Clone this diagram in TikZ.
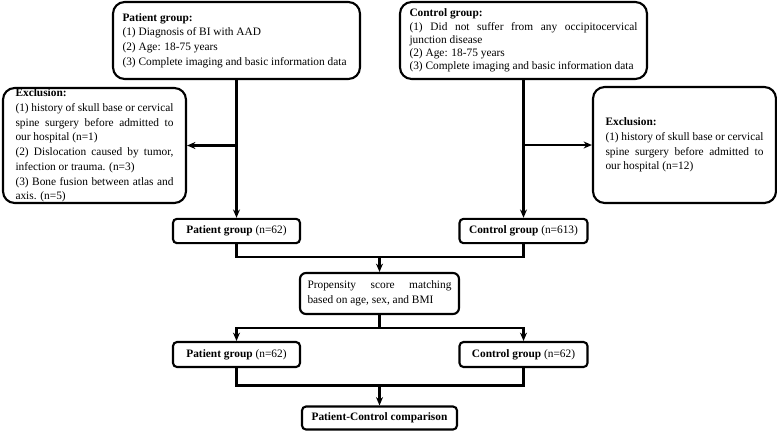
\documentclass[tikz,border=0pt]{standalone}
\usepackage{fontspec}
\setmainfont{Liberation Serif}
\usetikzlibrary{arrows.meta, calc}
\hyphenpenalty=10000
\exhyphenpenalty=10000

\begin{document}
\begin{tikzpicture}[x=0.3mm, y=-0.3mm, font=\fontsize{9.7}{12.6}\selectfont]
    \tikzstyle{bigbox} = [rectangle, rounded corners=3.5mm, draw=black, line width=1.8pt, align=justify, inner sep=0pt]
    \tikzstyle{smallbox} = [rectangle, rounded corners=1.2mm, draw=black, line width=1.8pt, text centered, align=center, inner sep=0pt]
    \tikzstyle{arrow} = [line width=1.8pt, ->, >={Stealth[length=2.5mm, width=2.1mm]}]
    \tikzstyle{joint} = [line width=1.8pt]

    \useasboundingbox (0,0) rectangle (777,431);

    \node (pInc) [bigbox, minimum width=74.1mm, minimum height=23.1mm, text width=68.4mm] at (236.5,40.5)
        {\textbf{Patient group:}\\(1) Diagnosis of BI with AAD\\(2) Age: 18-75 years\\(3) Complete imaging and basic information data};
    \node (cInc) [bigbox, minimum width=74.1mm, minimum height=23.1mm, text width=68.4mm, font=\fontsize{9.7}{11.2}\selectfont] at (523.5,40.5)
        {\textbf{Control group:}\\(1) Did not suffer from any occipitocervical junction disease\\(2) Age: 18-75 years\\(3) Complete imaging and basic information data};
    \node (pExc) [bigbox, minimum width=54.9mm, minimum height=34.5mm, text width=47.4mm] at (94.5,145.5)
        {\textbf{Exclusion:}\\(1) history of skull base or cervical spine surgery before admitted to our hospital (n=1)\\(2) Dislocation caused by tumor, infection or trauma. (n=3)\\(3) Bone fusion between atlas and axis. (n=5)};
    \node (cExc) [bigbox, minimum width=54.9mm, minimum height=34.8mm, text width=47.4mm] at (684.5,145)
        {\textbf{Exclusion:}\\(1) history of skull base or cervical spine surgery before admitted to our hospital (n=12)};
    \node (pAll) [smallbox, minimum width=38.1mm, minimum height=7.3mm] at (236.5,231) {\textbf{Patient group} (n=62)};
    \node (cAll) [smallbox, minimum width=38.4mm, minimum height=7.3mm] at (523.5,231) {\textbf{Control group} (n=613)};
    \node (psm) [bigbox, rounded corners=1.8mm, minimum width=47.7mm, minimum height=12.3mm, text width=43.2mm] at (379.5,293.5)
        {Propensity\hfill score\hfill matching\\based on age, sex, and BMI};
    \node (pMatch) [smallbox, minimum width=38.1mm, minimum height=7.5mm] at (236.5,354.5) {\textbf{Patient group} (n=62)};
    \node (cMatch) [smallbox, minimum width=38.4mm, minimum height=7.5mm] at (523.5,354.5) {\textbf{Control group} (n=62)};
    \node (comp) [smallbox, minimum width=46.5mm, minimum height=6.9mm] at (379.5,418) {\textbf{Patient-Control comparison}};

    \coordinate (jA) at ($(psm.north)+(0,-15)$);
    \coordinate (jB) at ($(psm.south)+(0,13)$);
    \coordinate (jC) at ($(comp.north)+(0,-20)$);

    \draw [arrow] (pInc) -- (pAll);
    \draw [arrow] (cInc) -- (cAll);
    \draw [arrow] (pInc.south |- pExc.east) -- (pExc.east);
    \draw [arrow] (cInc.south |- cExc.west) -- (cExc.west);
    \draw [joint] (pAll.south) |- (jA) -| (cAll.south);
    \draw [arrow] (jA) -- (psm.north);
    \draw [joint] (psm.south) -- (jB);
    \draw [arrow] (jB) -| (pMatch.north);
    \draw [arrow] (jB) -| (cMatch.north);
    \draw [joint] (pMatch.south) |- (jC) -| (cMatch.south);
    \draw [arrow] (jC) -- (comp.north);
\end{tikzpicture}
\end{document}
